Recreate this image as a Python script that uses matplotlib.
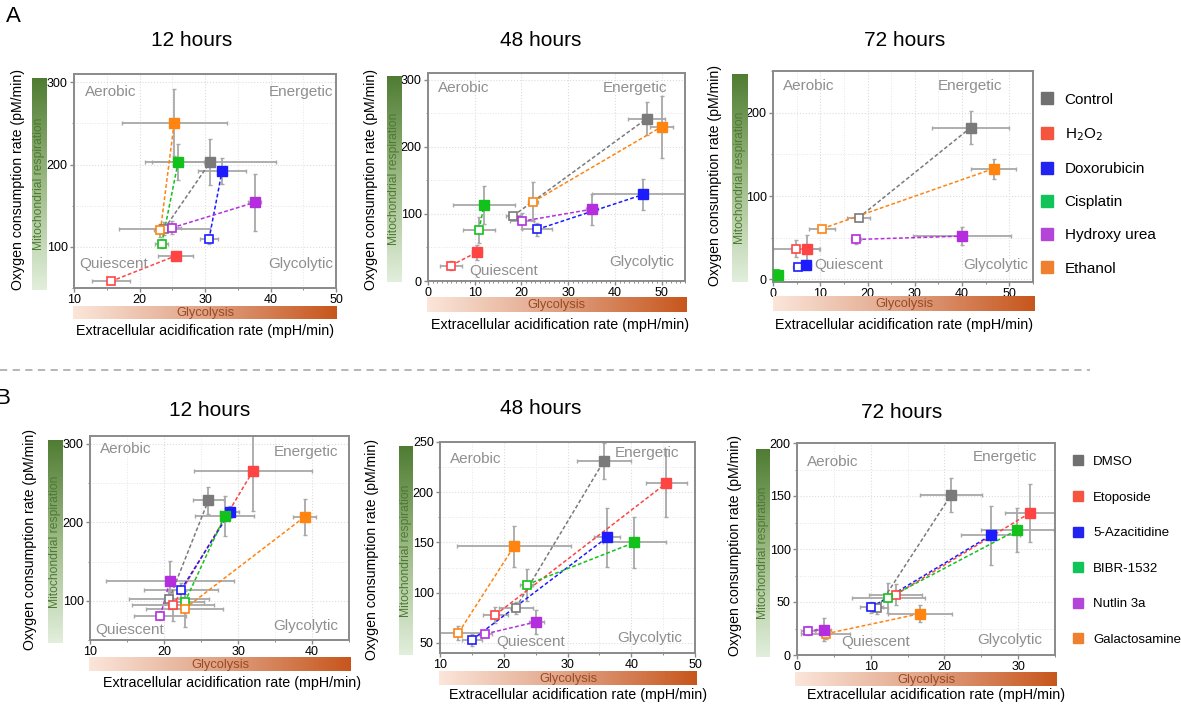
import numpy as np
import matplotlib
matplotlib.use("Agg")
import matplotlib.pyplot as plt
from matplotlib.lines import Line2D
from matplotlib.colors import LinearSegmentedColormap
from matplotlib.ticker import MultipleLocator

plt.rcParams['font.family'] = ['Liberation Sans', 'DejaVu Sans']

# legend entries
labels_a = ['Control', 'H$_2$O$_2$', 'Doxorubicin', 'Cisplatin', 'Hydroxy urea', 'Ethanol']
labels_b = ['DMSO', 'Etoposide', '5-Azacitidine', 'BIBR-1532', 'Nutlin 3a', 'Galactosamine']
colors = ['#7a7a7a', '#ff4444', '#1c1cff', '#12c21a', '#b42ee0', '#ff8410']
legend_colors = ['#707070', '#f5553f', '#2323f0', '#10c45a', '#b346d8', '#ee8030']

# (ECAR, OCR, ECAR err, OCR err) per treatment; open = before, filled = after
a12_open = [(23.8, 122, 7.0, 8), (15.6, 58, 2.9, 3), (30.6, 109, 1.4, 6),
            (23.4, 104, 1.0, 6), (24.9, 123, 1.5, 8), (23.2, 120, 1.0, 8)]
a12_fill = [(30.8, 203, 10.0, 28), (25.5, 89, 2.7, 5), (32.6, 192, 3.6, 16),
            (25.9, 203, 4.0, 22), (37.6, 154, 1.0, 35), (25.3, 251, 8.0, 41)]

a48_open = [(18.2, 97, 1.5, 5), (4.9, 23, 2.3, 7), (23.4, 77, 3.2, 10),
            (10.9, 76, 3.5, 20), (20.1, 89, 2.5, 12), (22.5, 118, 1.0, 29)]
a48_fill = [(46.8, 242, 4.0, 25), (10.5, 43, 1.0, 11), (46.1, 129, 11.0, 23),
            (12.0, 113, 6.7, 28), (35.1, 107, 1.2, 23), (50.0, 230, 2.5, 46)]

a72_open = [(18.1, 74, 2.5, 3), (4.9, 37, 5.0, 10), (5.3, 15, 1.0, 3),
            (0.4, 6, 0.5, 2), (17.6, 48, 1.0, 5), (10.4, 61, 2.8, 3)]
a72_fill = [(41.8, 182, 8.2, 20), (7.2, 36, 2.5, 17), (7.0, 17, 1.0, 3),
            (1.0, 5, 0.5, 2), (40.0, 52, 10.3, 11), (46.7, 133, 4.8, 12)]

b12_open = [(20.7, 102, 5.4, 12), (21.2, 94, 5.5, 20), (22.3, 114, 5.0, 9),
            (22.8, 98, 2.6, 10), (19.5, 81, 3.5, 6), (22.8, 90, 5.2, 23)]
b12_fill = [(26.0, 228, 2.1, 17), (32.0, 265, 8.0, 50), (28.9, 213, 1.3, 8),
            (28.2, 208, 4.0, 25), (20.8, 125, 8.7, 26), (39.0, 207, 1.6, 23)]

b48_open = [(21.9, 85, 2.7, 6), (18.7, 78, 2.0, 8), (15.0, 53, 1.6, 6),
            (23.6, 108, 1.0, 16), (17.1, 59, 1.0, 3), (12.9, 60, 4.0, 7)]
b48_fill = [(35.7, 231, 4.2, 18), (45.5, 209, 3.2, 34), (36.2, 155, 2.0, 29),
            (40.5, 150, 5.0, 25), (25.1, 71, 1.2, 12), (21.6, 146, 8.9, 20)]

b72_open = [(10.9, 44, 1.5, 5), (13.4, 57, 3.6, 10), (10.1, 45, 1.5, 5),
            (12.4, 54, 5.0, 14), (1.5, 23, 1.0, 4), (3.9, 20, 3.3, 5)]
b72_fill = [(20.9, 151, 4.2, 16), (31.6, 134, 3.4, 27), (26.3, 113, 4.0, 28),
            (29.9, 118, 5.0, 21), (3.6, 24, 1.0, 11), (16.7, 39, 4.3, 8)]

W, H = 1181, 706


def rect(l, t, r, b):
    return [l / W, 1 - b / H, (r - l) / W, (b - t) / H]


green_cmap = LinearSegmentedColormap.from_list('g', ['#e2efdc', '#9dbb86', '#4f7c32'])
orange_cmap = LinearSegmentedColormap.from_list('o', ['#fbe6da', '#e0a285', '#c7561c'])

fig = plt.figure(figsize=(W / 100, H / 100), dpi=100)

# layout per panel
panels = [
    dict(data=(a12_open, a12_fill), title='12 hours', ax=(74, 74, 336, 288), vbar=(32, 78, 47, 290),
         hbar=(73, 306, 337, 319), tpos=(192, 40), xl=(205, 331), yl=(18, 180),
         xlim=(10, 50), ylim=(50, 310), xt=10, xm=5, yt=100, q=[(0.04, 0.915), (0.99, 0.915), (0.02, 0.11), (0.99, 0.11)]),
    dict(data=(a48_open, a48_fill), title='48 hours', ax=(428, 73, 685, 281), vbar=(387, 76, 402, 282),
         hbar=(427, 297, 686, 312), tpos=(541, 40), xl=(560, 325), yl=(371, 180),
         xlim=(0, 55), ylim=(0, 310), xt=10, xm=1, yt=100, q=[(0.04, 0.93), (0.93, 0.93), (0.16, 0.05), (0.96, 0.09)]),
    dict(data=(a72_open, a72_fill), title='72 hours', ax=(773, 71, 1033, 282), vbar=(732, 74, 747, 282),
         hbar=(773, 296, 1035, 311), tpos=(905, 40), xl=(904, 325), yl=(715, 175),
         xlim=(0, 55), ylim=(-3, 250), xt=10, xm=5, yt=100, q=[(0.04, 0.93), (0.88, 0.93), (0.16, 0.08), (0.98, 0.08)]),
    dict(data=(b12_open, b12_fill), title='12 hours', ax=(90, 436, 349, 640), vbar=(48, 440, 63, 643),
         hbar=(89, 657, 351, 671), tpos=(210, 410), xl=(232, 683), yl=(30, 540),
         xlim=(10, 45), ylim=(50, 310), xt=10, xm=5, yt=100, q=[(0.04, 0.935), (0.96, 0.92), (0.02, 0.05), (0.96, 0.07)]),
    dict(data=(b48_open, b48_fill), title='48 hours', ax=(440, 442, 695, 653), vbar=(399, 446, 413, 655),
         hbar=(439, 671, 697, 685), tpos=(541, 408), xl=(578, 695), yl=(372, 550),
         xlim=(10, 50), ylim=(40, 250), xt=10, xm=5, yt=50, q=[(0.04, 0.92), (0.94, 0.95), (0.22, 0.05), (0.95, 0.07)]),
    dict(data=(b72_open, b72_fill), title='72 hours', ax=(797, 443, 1055, 655), vbar=(756, 449, 770, 657),
         hbar=(795, 672, 1057, 686), tpos=(902, 412), xl=(936, 695), yl=(735, 545),
         xlim=(0, 35), ylim=(0, 200), xt=10, xm=5, yt=50, q=[(0.04, 0.91), (0.93, 0.935), (0.17, 0.06), (0.95, 0.07)]),
]

qnames = ['Aerobic', 'Energetic', 'Quiescent', 'Glycolytic']
qha = ['left', 'right', 'left', 'right']

for p in panels:
    ax = fig.add_axes(rect(*p['ax']))
    opn, fil = p['data']
    for i in range(6):
        xo, yo, xeo, yeo = opn[i]
        xf, yf, xef, yef = fil[i]
        ax.errorbar([xo, xf], [yo, yf], xerr=[xeo, xef], yerr=[yeo, yef], fmt='none',
                    ecolor='#a8a8a8', elinewidth=1.3, capsize=1.5, zorder=2)
        ax.plot([xo, xf], [yo, yf], ls=(0, (2.5, 1.5)), color=colors[i], lw=1.1, zorder=3)
        ax.plot(xo, yo, 's', ms=6, mfc='white', mec=colors[i], mew=1.2, zorder=4)
        ax.plot(xf, yf, 's', ms=6.5, mfc=colors[i], mec=colors[i], zorder=5)
    ax.set_xlim(*p['xlim'])
    ax.set_ylim(*p['ylim'])
    ax.xaxis.set_major_locator(MultipleLocator(p['xt']))
    ax.xaxis.set_minor_locator(MultipleLocator(p['xm']))
    ax.yaxis.set_major_locator(MultipleLocator(p['yt']))
    ax.yaxis.set_minor_locator(MultipleLocator(p['yt'] / 2))
    ax.grid(True, which='major', ls=':', color='#dcdcdc', lw=0.8, zorder=0)
    ax.grid(True, which='minor', ls=':', color='#e6e6e6', lw=0.7, zorder=0)
    if p['xm'] == 1:
        ax.grid(False, which='minor', axis='x')
        ax.xaxis.set_minor_locator(MultipleLocator(1))
        ax.grid(True, which='major', axis='x', ls=':', color='#dcdcdc', lw=0.8)
    ax.set_axisbelow(True)
    for s in ax.spines.values():
        s.set_color('#8a8a8a')
        s.set_linewidth(1.4)
    ax.tick_params(which='major', length=3, width=1, color='#8a8a8a', labelsize=9, pad=1.5)
    ax.tick_params(which='minor', length=1.5, width=0.7, color='#8a8a8a')
    for (qx, qy), name, ha in zip(p['q'], qnames, qha):
        ax.text(qx, qy, name, transform=ax.transAxes, ha=ha, va='center',
                fontsize=11, color='#8f8f8f', zorder=6)

    vb = fig.add_axes(rect(*p['vbar']))
    vb.imshow(np.linspace(0, 1, 256).reshape(-1, 1)[::-1], aspect='auto', cmap=green_cmap,
              extent=(0, 1, 0, 1))
    vb.text(0.5, 0.5, 'Mitochondrial respiration', rotation=90, ha='center', va='center',
            fontsize=8.7, color='#4d7a34', transform=vb.transAxes)
    vb.axis('off')

    hb = fig.add_axes(rect(*p['hbar']))
    hb.imshow(np.linspace(0, 1, 256).reshape(1, -1), aspect='auto', cmap=orange_cmap,
              extent=(0, 1, 0, 1))
    hb.text(0.5, 0.45, 'Glycolysis', ha='center', va='center', fontsize=9.3,
            color='#9a4a22', transform=hb.transAxes)
    hb.axis('off')

    fig.text(p['tpos'][0] / W, 1 - p['tpos'][1] / H, p['title'], ha='center', va='center', fontsize=15)
    fig.text(p['xl'][0] / W, 1 - p['xl'][1] / H, 'Extracellular acidification rate (mpH/min)',
             ha='center', va='center', fontsize=10.3)
    fig.text(p['yl'][0] / W, 1 - p['yl'][1] / H, 'Oxygen consumption rate (pM/min)',
             ha='center', va='center', rotation=90, fontsize=10.2)

fig.text(6 / W, 1 - 16 / H, 'A', fontsize=16, ha='left', va='center')
fig.text(-5 / W, 1 - 399 / H, 'B', fontsize=16, ha='left', va='center')

fig.add_artist(Line2D([0, 1090 / W], [1 - 370 / H, 1 - 370 / H], color='#b0b0b0',
                      ls=(0, (4, 3)), lw=1.3, transform=fig.transFigure))

handles_a = [Line2D([], [], marker='s', ls='none', ms=8, color=c) for c in legend_colors]
fig.legend(handles_a, labels_a, loc='upper left', bbox_to_anchor=(1026 / W, 1 - 79 / H),
           frameon=False, fontsize=11, labelspacing=1.26, handletextpad=0.63,
           handlelength=1.0)
handles_b = [Line2D([], [], marker='s', ls='none', ms=7, color=c) for c in legend_colors]
fig.legend(handles_b, labels_b, loc='upper left', bbox_to_anchor=(1060 / W, 1 - 444 / H),
           frameon=False, fontsize=9.5, labelspacing=1.77, handletextpad=0.6, handlelength=1.0)

fig.savefig('out.png', dpi=100)
